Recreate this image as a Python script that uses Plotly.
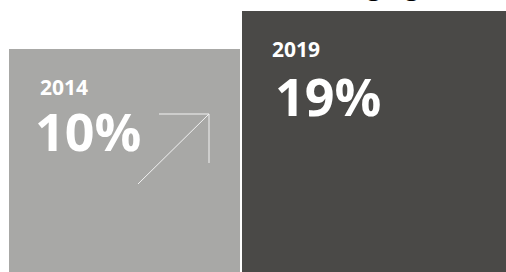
import plotly.graph_objects as go

# data
years = ["2014", "2019"]
shares = [10, 19]
labels = ["10%", "19%"]
title_text = "Changing"

W, H = 506, 272
bar_colors = ["#a8a8a6", "#4a4947"]

# y scale so the two bar tops land where they do in the reference
s = (49 - 11) / (shares[1] - shares[0])
ymax = shares[1] + 11 / s
ymin = ymax - H / s

fig = go.Figure()
fig.add_trace(go.Bar(
    x=years, y=[v - ymin for v in shares], base=ymin,
    marker=dict(color=bar_colors, line=dict(width=0)),
    width=[231 / 253, 264 / 253],
    offset=[(9 - 126.5) / 253, (242 - 379.5) / 253],
    hoverinfo="skip",
))

def px(x, y):
    return x / W, 1 - y / H

ann = []
font = "Open Sans"
# year labels
for yr, (x, y) in zip(years, [(39, 81), (271, 43)]):
    ax, ay = px(x, y)
    ann.append(dict(text=f"<b>{yr}</b>", x=ax, y=ay, xref="paper", yref="paper",
                    xanchor="left", yanchor="top", showarrow=False, borderpad=0,
                    font=dict(family=font, size=21, color="white"), yshift=9.5))
for lb, (x, y) in zip(labels, [(34, 112), (274, 77)]):
    ax, ay = px(x, y)
    ann.append(dict(text=f"<b>{lb}</b>", x=ax, y=ay, xref="paper", yref="paper",
                    xanchor="left", yanchor="top", showarrow=False, borderpad=0,
                    font=dict(family=font, size=52, color="white"), yshift=18))
# partially visible title
ann.append(dict(text=f"<b>{title_text}</b>", x=421 / W, y=1, xref="paper", yref="paper",
                xanchor="right", yanchor="bottom", showarrow=False,
                font=dict(family=font, size=25, color="black"), yshift=-4))

line = dict(color="#f2f2f2", width=1)
shapes = [
    dict(type="line", xref="paper", yref="paper", x0=159 / W, y0=1 - 114 / H, x1=209 / W, y1=1 - 114 / H, line=line),
    dict(type="line", xref="paper", yref="paper", x0=209 / W, y0=1 - 114 / H, x1=209 / W, y1=1 - 163 / H, line=line),
    dict(type="line", xref="paper", yref="paper", x0=209 / W, y0=1 - 114 / H, x1=138 / W, y1=1 - 184 / H, line=line),
]

fig.update_layout(
    width=W, height=H, margin=dict(l=0, r=0, t=0, b=0),
    paper_bgcolor="white", plot_bgcolor="white",
    showlegend=False, annotations=ann, shapes=shapes,
    xaxis=dict(visible=False, range=[-0.5, 1.5], fixedrange=True),
    yaxis=dict(visible=False, range=[ymin, ymax], fixedrange=True),
)
fig.write_html("out.html", config={"displayModeBar": False},
               post_script="document.body.style.margin='0';document.body.style.overflow='hidden';")
